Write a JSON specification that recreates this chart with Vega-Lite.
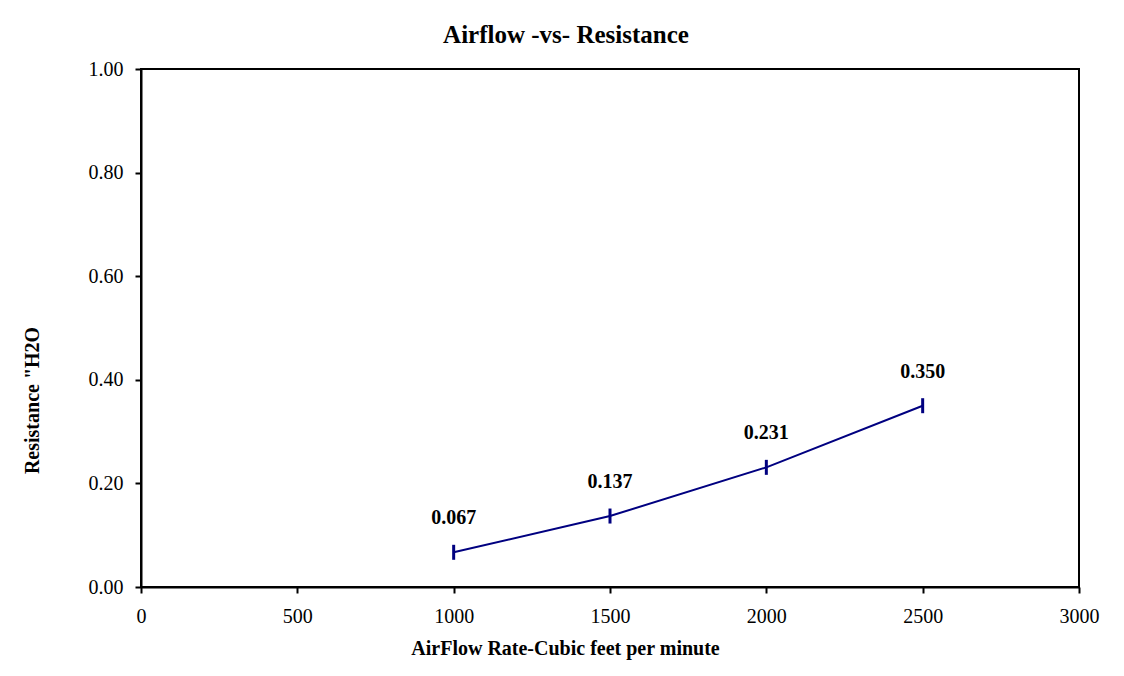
{
  "$schema": "https://vega.github.io/schema/vega-lite/v6.json",
  "autosize": "none",
  "width": 938,
  "height": 518,
  "padding": {"left": 141, "top": 69, "right": 45, "bottom": 89},
  "background": "white",
  "config": {
    "font": "Liberation Serif",
    "view": {"stroke": "black", "strokeWidth": 2},
    "axis": {
      "grid": false,
      "domainColor": "black",
      "domainWidth": 2,
      "tickColor": "black",
      "tickWidth": 2,
      "tickSize": 6,
      "labelFont": "Liberation Serif",
      "labelFontSize": 20,
      "labelColor": "black",
      "labelFlush": false,
      "labelOverlap": false,
      "titleFont": "Liberation Serif",
      "titleFontSize": 20,
      "titleFontWeight": "bold",
      "titleColor": "black"
    }
  },
  "title": {
    "text": "Airflow -vs- Resistance",
    "font": "Liberation Serif",
    "fontSize": 25,
    "fontWeight": "bold",
    "color": "black",
    "anchor": "middle",
    "frame": "group",
    "offset": 11,
    "dx": -44
  },
  "data": {
    "values": [
      {"airflow": 1000, "resistance": 0.067, "label": "0.067"},
      {"airflow": 1500, "resistance": 0.137, "label": "0.137"},
      {"airflow": 2000, "resistance": 0.231, "label": "0.231"},
      {"airflow": 2500, "resistance": 0.350, "label": "0.350"}
    ]
  },
  "encoding": {
    "x": {
      "field": "airflow",
      "type": "quantitative",
      "scale": {"domain": [0, 3000], "nice": false},
      "axis": {
        "values": [0, 500, 1000, 1500, 2000, 2500, 3000],
        "format": "d",
        "labelPadding": 13,
        "title": "AirFlow Rate-Cubic feet per minute",
        "titlePadding": 12,
        "titleX": 424
      }
    },
    "y": {
      "field": "resistance",
      "type": "quantitative",
      "scale": {"domain": [0, 1], "nice": false},
      "axis": {
        "values": [0, 0.2, 0.4, 0.6, 0.8, 1.0],
        "format": ".2f",
        "labelPadding": 12,
        "title": "Resistance \"H2O",
        "titlePadding": 46,
        "titleY": 331
      }
    }
  },
  "layer": [
    {"mark": {"type": "line", "color": "#000080", "strokeWidth": 2}},
    {"mark": {"type": "tick", "orient": "vertical", "color": "#000080", "opacity": 1, "size": 15, "thickness": 3}},
    {
      "mark": {"type": "text", "dy": -34, "font": "Liberation Serif", "fontSize": 20, "fontWeight": "bold", "color": "black"},
      "encoding": {"text": {"field": "label"}}
    }
  ]
}
